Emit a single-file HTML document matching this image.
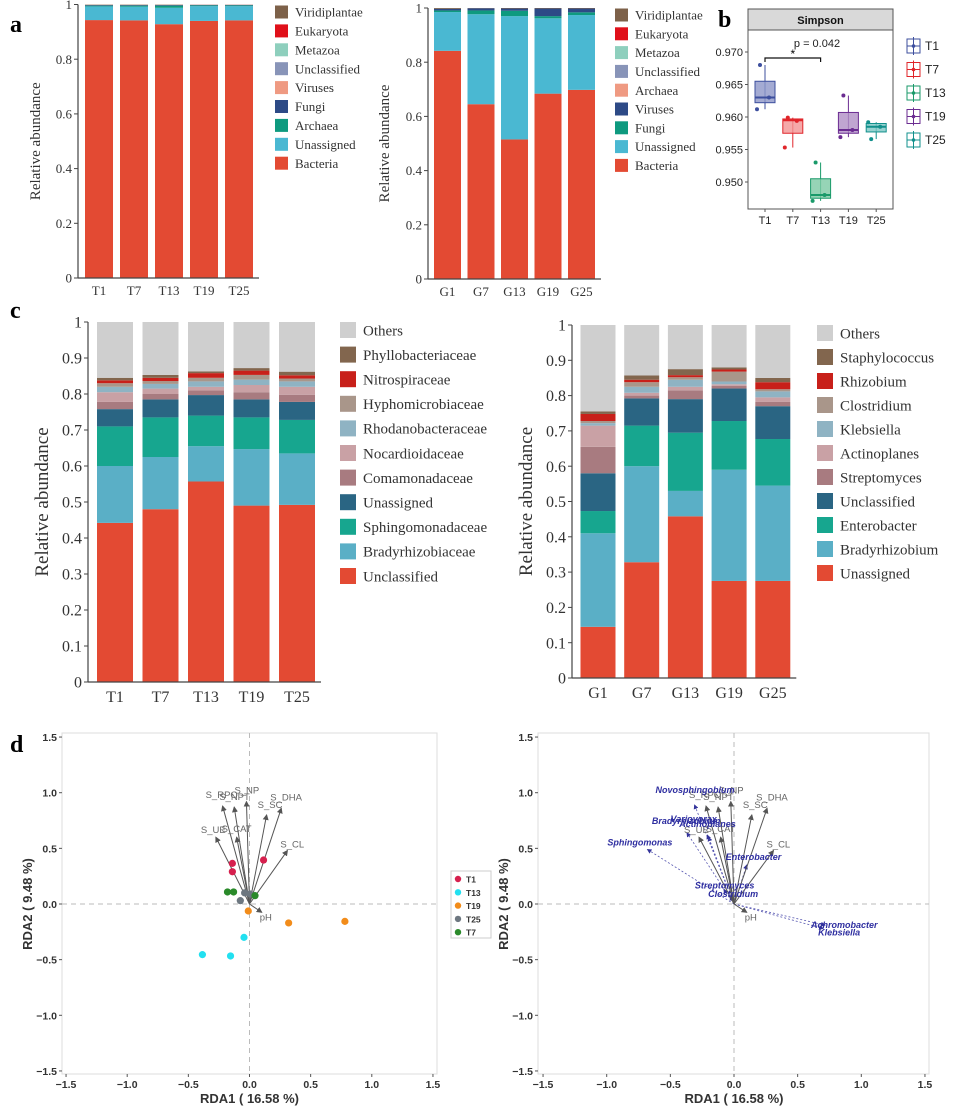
<!DOCTYPE html>
<html><head><meta charset="utf-8"><style>
html,body{margin:0;padding:0;background:#fff}
svg{display:block}
.serif{font-family:"Liberation Serif",serif}
.sans{font-family:"Liberation Sans",sans-serif}
</style></head><body>
<svg id="fig" width="963" height="1110" viewBox="0 0 963 1110" xmlns="http://www.w3.org/2000/svg">
<defs>
<marker id="ag" markerWidth="6" markerHeight="6" refX="5" refY="3" orient="auto"><path d="M0,0 L6,3 L0,6 z" fill="#555"/></marker>
<marker id="ab" markerWidth="6" markerHeight="6" refX="5" refY="3" orient="auto"><path d="M0,0 L6,3 L0,6 z" fill="#33339a"/></marker>
</defs>
<text class="serif" x="10" y="32" font-size="24" font-weight="bold">a</text>
<text class="serif" x="718" y="27" font-size="24" font-weight="bold">b</text>
<text class="serif" x="10" y="318" font-size="24" font-weight="bold">c</text>
<text class="serif" x="10" y="752" font-size="24" font-weight="bold">d</text>
</svg>
<script>
// ---------- DATA ----------
const aLeftCats=["T1","T7","T13","T19","T25"];
const aLeftLegend=["Viridiplantae","Eukaryota","Metazoa","Unclassified","Viruses","Fungi","Archaea","Unassigned","Bacteria"];
const aLeftBacteria=[0.943,0.942,0.928,0.940,0.942];
const aLeftUnassigned=[0.050,0.050,0.060,0.054,0.052];
const aLeftArchaea=[0.003,0.004,0.008,0.003,0.003];
const aLeftFungi=[0.002,0.002,0.002,0.002,0.002];
const aLeftViruses=[0.001,0.001,0.001,0.001,0.001];
const aLeftRest=[0.001,0.001,0.001,0.000,0.000];

const aRightCats=["G1","G7","G13","G19","G25"];
const aRightLegend=["Viridiplantae","Eukaryota","Metazoa","Unclassified","Archaea","Viruses","Fungi","Unassigned","Bacteria"];
const aRightBacteria=[0.842,0.645,0.515,0.684,0.698];
const aRightUnassigned=[0.143,0.332,0.455,0.278,0.276];
const aRightFungi=[0.006,0.014,0.020,0.008,0.010];
const aRightViruses=[0.006,0.008,0.008,0.028,0.014];
const aRightRest=[0.003,0.001,0.002,0.002,0.002];

const bCats=["T1","T7","T13","T19","T25"];
const bYTicks=[0.950,0.955,0.960,0.965,0.970];
const bMin=[0.9612,0.9553,0.9471,0.9569,0.9566];
const bQ1=[0.9622,0.9575,0.9475,0.9575,0.9577];
const bMed=[0.9630,0.9595,0.9480,0.9580,0.9585];
const bQ3=[0.9655,0.9597,0.9505,0.9607,0.9590];
const bMax=[0.9680,0.9599,0.9530,0.9633,0.9592];
const bPoints=[[0.9680,0.9630,0.9612],[0.9599,0.9594,0.9553],[0.9530,0.9480,0.9471],[0.9633,0.9580,0.9569],[0.9566,0.9585,0.9592]];

const cLeftCats=["T1","T7","T13","T19","T25"];
const cLeftLegend=["Others","Phyllobacteriaceae","Nitrospiraceae","Hyphomicrobiaceae","Rhodanobacteraceae","Nocardioidaceae","Comamonadaceae","Unassigned","Sphingomonadaceae","Bradyrhizobiaceae","Unclassified"];
const cL_Unclassified=[0.442,0.480,0.557,0.490,0.492];
const cL_Bradyrhizobiaceae=[0.158,0.145,0.098,0.157,0.143];
const cL_Sphingomonadaceae=[0.110,0.110,0.085,0.088,0.093];
const cL_Unassigned=[0.048,0.050,0.057,0.050,0.050];
const cL_Comamonadaceae=[0.020,0.015,0.013,0.020,0.020];
const cL_Nocardioidaceae=[0.027,0.015,0.010,0.020,0.022];
const cL_Rhodanobacteraceae=[0.015,0.013,0.015,0.015,0.015];
const cL_Hyphomicrobiaceae=[0.010,0.008,0.010,0.013,0.008];
const cL_Nitrospiraceae=[0.008,0.009,0.013,0.012,0.009];
const cL_Phyllobacteriaceae=[0.007,0.008,0.005,0.007,0.010];
const cL_Others=[0.155,0.147,0.137,0.128,0.138];

const cRightCats=["G1","G7","G13","G19","G25"];
const cRightLegend=["Others","Staphylococcus","Rhizobium","Clostridium","Klebsiella","Actinoplanes","Streptomyces","Unclassified","Enterobacter","Bradyrhizobium","Unassigned"];
const cR_Unassigned=[0.145,0.328,0.458,0.275,0.275];
const cR_Bradyrhizobium=[0.265,0.272,0.072,0.315,0.270];
const cR_Enterobacter=[0.063,0.115,0.165,0.138,0.132];
const cR_Unclassified=[0.107,0.077,0.095,0.092,0.093];
const cR_Streptomyces=[0.075,0.008,0.025,0.008,0.012];
const cR_Actinoplanes=[0.060,0.008,0.010,0.004,0.013];
const cR_Klebsiella=[0.007,0.017,0.020,0.008,0.017];
const cR_Clostridium=[0.006,0.013,0.007,0.028,0.006];
const cR_Rhizobium=[0.020,0.007,0.006,0.006,0.020];
const cR_Staphylococcus=[0.007,0.012,0.017,0.006,0.012];
const cR_Others=[0.245,0.143,0.125,0.120,0.150];

const dTicks=[-1.5,-1.0,-0.5,0.0,0.5,1.0,1.5];
const dTickLabels=["\u22121.5","\u22121.0","\u22120.5","0.0","0.5","1.0","1.5"];
const envNames=["S_RPO","S_NPT","S_NP","S_SC","S_DHA","S_UE","S_CAT","S_CL","pH"];
const envX=[-0.22,-0.125,-0.025,0.14,0.26,-0.275,-0.105,0.31,0.10];
const envY=[0.88,0.87,0.92,0.80,0.86,0.60,0.60,0.48,-0.075];
const sampleGroups=["T1","T13","T19","T25","T7"];
const sampleX=[[-0.14,-0.14,0.115],[-0.385,-0.155,-0.045],[-0.01,0.32,0.78],[-0.075,-0.04,0.005],[-0.18,-0.13,0.045]];
const sampleY=[[0.365,0.29,0.395],[-0.455,-0.467,-0.30],[-0.063,-0.17,-0.156],[0.03,0.10,0.09],[0.108,0.108,0.075]];
const taxaNames=["Sphingomonas","Novosphingobium","Variovorax","Bradyrhizobium","Actinoplanes","Enterobacter","Streptomyces","Clostridium","Achromobacter","Klebsiella"];
const taxaX=[-0.68,-0.31,-0.20,-0.37,-0.21,0.10,-0.08,-0.03,0.715,0.70];
const taxaY=[0.49,0.89,0.60,0.64,0.62,0.35,0.13,0.07,-0.19,-0.22];

// ---------- STYLE / LAYOUT ----------
const NS="http://www.w3.org/2000/svg";
const svg=document.getElementById('fig');
function mk(tag,attrs,parent,txt){const e=document.createElementNS(NS,tag);for(const k in attrs)e.setAttribute(k,attrs[k]);if(txt!==undefined)e.textContent=txt;(parent||svg).appendChild(e);return e;}
function grp(name){const g=mk('g',{});return g;}

const aLeftColors=["#7d6149","#e0101a","#8ecfbd","#8894b8","#ef9a82","#2d4a86","#0e9a7f","#4ab8d2","#e34a33"];
const aRightColors=["#7d6149","#e0101a","#8ecfbd","#8894b8","#ef9a82","#2d4a86","#0e9a7f","#4ab8d2","#e34a33"];
const cColors=["#cfcfcf","#82664e","#c8201a","#a9968a","#8fb3c3","#c9a1a5","#a87b80","#2a6583","#17a68f","#5aafc6","#e34a33"];

function stacked(p){
  const g=grp(p.name);
  const ys=v=>p.y0-(p.y0-p.y1)*v;
  p.cats.forEach((c,i)=>{
    let acc=0;const cx=p.c0+p.step*i;
    p.series.forEach((s,j)=>{
      const v=s[i];const top=ys(acc+v),bot=ys(acc);
      const r=mk('rect',{x:cx-p.bw/2,y:top,width:p.bw,height:Math.max(0,bot-top),fill:p.colors[j]},g);
      
      
      acc+=v;
    });
    const t=mk('text',{x:cx,y:p.y0+p.fs+4,'text-anchor':'middle','font-size':p.fs,fill:'#333',class:'serif'},g,c);
    
    
  });
  mk('line',{x1:p.ax,y1:p.y1,x2:p.ax,y2:p.y0,stroke:'#444','stroke-width':1.2},g);
  mk('line',{x1:p.ax,y1:p.y0,x2:p.c0+p.step*(p.cats.length-1)+p.bw/2+6,y2:p.y0,stroke:'#444','stroke-width':1.2},g);
  p.ticks.forEach((tv,k)=>{
    const y=ys(tv);
    mk('line',{x1:p.ax-4,y1:y,x2:p.ax,y2:y,stroke:'#444'},g);
    const t=mk('text',{x:p.ax-6,y:y+p.fs*0.35,'text-anchor':'end','font-size':p.fs,fill:'#333',class:'serif'},g,p.tickLabels[k]);
    
    
  });
  const yt=mk('text',{x:0,y:0,transform:`translate(${p.titleX},${(p.y0+p.y1)/2}) rotate(-90)`,'text-anchor':'middle','font-size':p.tfs,fill:'#333',class:'serif'},g,'Relative abundance');
  
  
  p.legend.forEach((n,k)=>{
    const y=p.ly+p.lstep*k;
    const r=mk('rect',{x:p.lx,y:y-p.sw/2,width:p.sw,height:p.sw,fill:p.legendColors[k]},g);
    
    
    const t=mk('text',{x:p.lx+p.sw+7,y:y+p.lfs*0.35,'font-size':p.lfs,fill:'#333',class:'serif'},g,n);
    
    
  });
}
const tA=[0,0.2,0.4,0.6,0.8,1],tAL=["0","0.2","0.4","0.6","0.8","1"];
stacked({name:'panel-a-left-chart',cats:aLeftCats,series:[aLeftBacteria,aLeftUnassigned,aLeftArchaea,aLeftFungi,aLeftViruses,aLeftRest],
  snames:["Bacteria","Unassigned","Archaea","Fungi","Viruses","Viridiplantae"],colors:["#e34a33","#4ab8d2","#0e9a7f","#2d4a86","#ef9a82","#7d6149"],
  y0:278,y1:4.5,ax:78,c0:99,step:35,bw:28,fs:13,ticks:tA,tickLabels:tAL,titleX:40,tfs:15,
  legend:aLeftLegend,legendColors:aLeftColors,lx:275,ly:12,lstep:18.9,sw:13,lfs:13});
stacked({name:'panel-a-right-chart',cats:aRightCats,series:[aRightBacteria,aRightUnassigned,aRightFungi,aRightViruses,aRightRest],
  snames:["Bacteria","Unassigned","Fungi","Viruses","Viridiplantae"],colors:["#e34a33","#4ab8d2","#0e9a7f","#2d4a86","#7d6149"],
  y0:279,y1:8,ax:428,c0:447.5,step:33.5,bw:27,fs:13,ticks:tA,tickLabels:tAL,titleX:389,tfs:15,
  legend:aRightLegend,legendColors:aRightColors,lx:615,ly:15,lstep:18.8,sw:13,lfs:13});
const tC=[0,0.1,0.2,0.3,0.4,0.5,0.6,0.7,0.8,0.9,1],tCL=["0","0.1","0.2","0.3","0.4","0.5","0.6","0.7","0.8","0.9","1"];
stacked({name:'panel-c-left-chart',cats:cLeftCats,
  series:[cL_Unclassified,cL_Bradyrhizobiaceae,cL_Sphingomonadaceae,cL_Unassigned,cL_Comamonadaceae,cL_Nocardioidaceae,cL_Rhodanobacteraceae,cL_Hyphomicrobiaceae,cL_Nitrospiraceae,cL_Phyllobacteriaceae,cL_Others],
  snames:cLeftLegend.slice().reverse(),colors:cColors.slice().reverse(),
  y0:682,y1:322,ax:88,c0:115,step:45.5,bw:36,fs:16,ticks:tC,tickLabels:tCL,titleX:48,tfs:19,
  legend:cLeftLegend,legendColors:cColors,lx:340,ly:330,lstep:24.6,sw:16,lfs:15});
stacked({name:'panel-c-right-chart',cats:cRightCats,
  series:[cR_Unassigned,cR_Bradyrhizobium,cR_Enterobacter,cR_Unclassified,cR_Streptomyces,cR_Actinoplanes,cR_Klebsiella,cR_Clostridium,cR_Rhizobium,cR_Staphylococcus,cR_Others],
  snames:cRightLegend.slice().reverse(),colors:cColors.slice().reverse(),
  y0:678,y1:325,ax:572,c0:598,step:43.7,bw:35,fs:16,ticks:tC,tickLabels:tCL,titleX:532,tfs:19,
  legend:cRightLegend,legendColors:cColors,lx:817,ly:333,lstep:24,sw:16,lfs:15});

// ---------- Panel b ----------
(function(){
  const g=grp('panel-b-boxplot');
  const L=748,R=893,T=30,B=209;
  const ys=v=>52+(0.970-v)*6500;
  const xs=i=>765+27.8*i;
  const cols=["#3d4f9e","#e0252a","#1a9a6a","#6b2c91","#11908c"];
  const fills=["#8d96c8","#f29494","#7cc9a4","#b08ec6","#7cc7c4"];
  mk('rect',{x:L,y:9,width:R-L,height:T-9,fill:'#d9d9d9',stroke:'#555'},g);
  const st=mk('text',{x:(L+R)/2,y:24,'text-anchor':'middle','font-size':11,'font-weight':'bold',class:'sans',fill:'#111'},g,'Simpson');
  
  
  mk('rect',{x:L,y:T,width:R-L,height:B-T,fill:'#fff',stroke:'#555'},g);
  bYTicks.forEach(v=>{
    mk('line',{x1:L-3,y1:ys(v),x2:L,y2:ys(v),stroke:'#555'},g);
    const t=mk('text',{x:L-5,y:ys(v)+4,'text-anchor':'end','font-size':11,class:'sans',fill:'#222'},g,v.toFixed(3));
    
    
  });
  bCats.forEach((c,i)=>{
    const x=xs(i),w=20;
    const bx=grp('box-'+c);
    mk('line',{x1:x,y1:ys(bMin[i]),x2:x,y2:ys(bMax[i]),stroke:cols[i]},bx);
    mk('rect',{x:x-w/2,y:ys(bQ3[i]),width:w,height:ys(bQ1[i])-ys(bQ3[i]),fill:fills[i],'fill-opacity':0.8,stroke:cols[i]},bx);
    mk('line',{x1:x-w/2,y1:ys(bMed[i]),x2:x+w/2,y2:ys(bMed[i]),stroke:cols[i],'stroke-width':2},bx);
    bPoints[i].forEach((v,k)=>{
      const p=mk('circle',{cx:x+[-5,4,-8][k],cy:ys(v),r:2,fill:cols[i]},bx);
      
      
    });
    mk('line',{x1:x,y1:B,x2:x,y2:B+3,stroke:'#555'},g);
    const t=mk('text',{x:x,y:B+15,'text-anchor':'middle','font-size':11,class:'sans',fill:'#222'},g,c);
    
    
    const ly=46+23.5*i;
    const lg=grp('legend-entry-'+c);
    
    mk('rect',{x:907,y:ly-7,width:13,height:14,fill:'#fff',stroke:cols[i]},lg);
    mk('line',{x1:913.5,y1:ly-9,x2:913.5,y2:ly+9,stroke:cols[i]},lg);
    mk('line',{x1:907,y1:ly,x2:920,y2:ly,stroke:cols[i]},lg);
    mk('circle',{cx:913.5,cy:ly,r:1.8,fill:cols[i]},lg);
    mk('text',{x:925,y:ly+4,'font-size':12,class:'sans',fill:'#222'},lg,c);
  });
  mk('path',{d:`M${xs(0)} 62 V58 H${xs(2)} V62`,fill:'none',stroke:'#111','stroke-width':1.2},g);
  mk('text',{x:(xs(0)+xs(2))/2,y:58,'text-anchor':'middle','font-size':12,class:'sans'},g,'*');
  const pv=mk('text',{x:817,y:47,'text-anchor':'middle','font-size':11,class:'sans',fill:'#222'},g,'p = 0.042');
  
  
})();

// ---------- Panel d ----------
function rda(p){
  const g=grp(p.name);
  const xs=v=>p.x0+v*p.ux, ys=v=>p.y0-v*p.uy;
  mk('rect',{x:p.L,y:p.T,width:p.R-p.L,height:p.B-p.T,fill:'#fff',stroke:'#ddd'},g);
  mk('line',{x1:xs(0),y1:p.T,x2:xs(0),y2:p.B,stroke:'#bbb','stroke-dasharray':'5,4'},g);
  mk('line',{x1:p.L,y1:ys(0),x2:p.R,y2:ys(0),stroke:'#bbb','stroke-dasharray':'5,4'},g);
  dTicks.forEach((v,k)=>{
    mk('line',{x1:xs(v),y1:p.B,x2:xs(v),y2:p.B+3,stroke:'#555'},g);
    const tx=mk('text',{x:xs(v),y:p.B+14,'text-anchor':'middle','font-size':10.5,'font-weight':'bold',fill:'#333',class:'sans'},g,dTickLabels[k]);
    
    
    mk('line',{x1:p.L-3,y1:ys(v),x2:p.L,y2:ys(v),stroke:'#555'},g);
    const ty=mk('text',{x:p.L-5,y:ys(v)+4,'text-anchor':'end','font-size':10.5,'font-weight':'bold',fill:'#333',class:'sans'},g,dTickLabels[k]);
    
    
  });
  const xt=mk('text',{x:xs(0),y:p.B+29,'text-anchor':'middle','font-size':13,'font-weight':'bold',fill:'#333',class:'sans'},g,'RDA1 ( 16.58 %)');
  
  
  const yt=mk('text',{x:0,y:0,transform:`translate(${p.L-30},${ys(0)}) rotate(-90)`,'text-anchor':'middle','font-size':13,'font-weight':'bold',fill:'#333',class:'sans'},g,'RDA2 ( 9.48 %)');
  
  
  if(p.taxa){
    taxaNames.forEach((n,i)=>{
      const a=mk('line',{x1:xs(0),y1:ys(0),x2:xs(taxaX[i]),y2:ys(taxaY[i]),stroke:'#5555b0','stroke-width':0.8,'stroke-dasharray':'2,2','marker-end':'url(#ab)'},g);
      
      
    });
  }
  envNames.forEach((n,i)=>{
    const a=mk('line',{x1:xs(0),y1:ys(0),x2:xs(envX[i]),y2:ys(envY[i]),stroke:'#555','stroke-width':1,'marker-end':'url(#ag)'},g);
    
    
    const o=p.envOff[i];
    const t=mk('text',{x:xs(envX[i])+o[0],y:ys(envY[i])+o[1],'font-size':9.5,fill:'#666',class:'sans'},g,n);
    
    
  });
  if(p.taxa){
    taxaNames.forEach((n,i)=>{
      const o=p.taxaOff[i];
      const t=mk('text',{x:xs(taxaX[i])+o[0],y:ys(taxaY[i])+o[1],'font-size':9,'font-style':'italic','font-weight':'bold',fill:'#2e2ea0',class:'sans'},g,n);
      
      
    });
  }
  if(p.samples){
    const cols=["#d6204e","#22e0f0","#f28c1a","#6d7780","#2a8a2a"];
    sampleGroups.forEach((s,i)=>{
      sampleX[i].forEach((v,k)=>{
        const c=mk('circle',{cx:xs(v),cy:ys(sampleY[i][k]),r:3.6,fill:cols[i]},g);
        
        
      });
      const lg=grp('legend-entry-'+s);
      
      mk('circle',{cx:458,cy:879+13.3*i,r:3.2,fill:cols[i]},lg);
      mk('text',{x:466,y:882.5+13.3*i,'font-size':8.5,'font-weight':'bold',fill:'#333',class:'sans'},lg,s);
    });
    mk('rect',{x:451,y:871,width:40,height:67,fill:'none',stroke:'#ccc'},g);
  }
}
const envOffL=[[-17,-8],[-15,-7],[-12,-8],[-9,-7],[-11,-8],[-15,-4],[-15,-5],[-7,-3],[-2,8]];
rda({name:'panel-d-left-rda',L:62,R:437,T:733,B:1074,x0:249.5,ux:122.3,y0:904,uy:111.3,envOff:envOffL,samples:true});
rda({name:'panel-d-right-rda',L:538,R:929,T:733,B:1074,x0:734,ux:127.3,y0:904,uy:111.3,envOff:envOffL,taxa:true,
  taxaOff:[[-40,-4],[-39,-12],[-38,-15],[-35,-9],[-28,-8],[-21,-5],[-29,-1],[-22,1],[-14,3],[-5,7]]});
</script>
</body></html>
